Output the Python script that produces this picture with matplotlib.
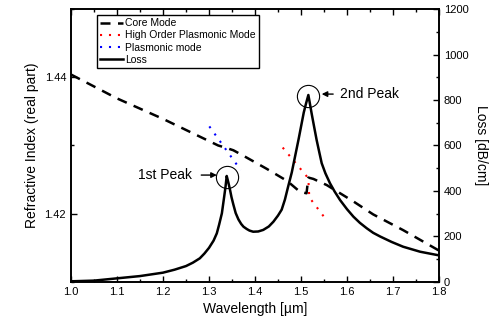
import matplotlib.pyplot as plt
from matplotlib.ticker import MultipleLocator

plt.rcParams['font.family'] = ['Liberation Sans', 'DejaVu Sans']

# Core mode effective index (real part)
core_wl = [1.00, 1.10, 1.20, 1.28, 1.32, 1.335, 1.353, 1.38, 1.425, 1.47,
           1.498, 1.512, 1.516, 1.527, 1.556, 1.585, 1.614, 1.657, 1.722, 1.80]
core_n = [1.4404, 1.4369, 1.4339, 1.4313, 1.4300, 1.4297, 1.4293, 1.4283,
          1.4266, 1.4248, 1.4232, 1.4230, 1.4253, 1.4251, 1.4242, 1.4230,
          1.4218, 1.4199, 1.4176, 1.4146]

# high order plasmonic mode
hop_wl = [1.4602, 1.5159, 1.5180, 1.5528]
hop_n = [1.4297, 1.4252, 1.4224, 1.4193]

# plasmonic mode
pl_wl = [1.3007, 1.3689]
pl_n = [1.4328, 1.4264]

# loss [dB/cm]
loss_wl = [1.00, 1.05, 1.10, 1.15, 1.20, 1.225, 1.25, 1.265, 1.28, 1.29,
           1.30, 1.31, 1.317, 1.322, 1.328, 1.333, 1.336, 1.3385, 1.342,
           1.3457, 1.349, 1.353, 1.358, 1.364, 1.37, 1.375, 1.382, 1.388,
           1.396, 1.407, 1.418, 1.43, 1.44, 1.45, 1.458, 1.465, 1.472, 1.48,
           1.487, 1.495, 1.5015, 1.506, 1.511, 1.516, 1.519, 1.523, 1.528,
           1.534, 1.54, 1.545, 1.553, 1.563, 1.573, 1.585, 1.6, 1.614,
           1.628, 1.643, 1.657, 1.672, 1.697, 1.722, 1.759, 1.80]
loss = [3, 6, 16, 26, 41, 54, 70, 85, 104, 125,
        150, 182, 214, 252, 302, 375, 420, 466, 438,
        405, 372, 340, 303, 275, 255, 243, 233, 226,
        221, 222, 229, 244, 265, 292, 318, 362, 419, 482,
        551, 630, 698, 745, 785, 822, 788, 742, 688,
        624, 568, 522, 478, 434, 398, 360, 320, 287,
        260, 236, 216, 200, 176, 155, 133, 117]

peaks_wl = [1.3385, 1.516]
peaks_loss = [460, 818]

fig = plt.figure(figsize=(4.91, 3.30), dpi=100)
ax = fig.add_axes([0.1446, 0.1455, 0.7495, 0.8272])
ax2 = ax.twinx()

l1, = ax.plot(core_wl, core_n, color='k', lw=1.8, dashes=(4, 3), label='Core Mode')
l2, = ax.plot(hop_wl, hop_n, color='red', lw=1.5, dashes=(1, 3.3),
              label='High Order Plasmonic Mode')
l3, = ax.plot(pl_wl, pl_n, color='blue', lw=1.5, dashes=(1, 3.3),
              label='Plasmonic mode')
l4, = ax2.plot(loss_wl, loss, color='k', lw=1.8, label='Loss')

ax2.plot(peaks_wl, peaks_loss, 'o', ms=16, mfc='none', mec='k', mew=0.8)

ax2.annotate('1st Peak', xy=(1.317, 470), xytext=(1.262, 470),
             ha='right', va='center', fontsize=10,
             arrowprops=dict(arrowstyle='-|>', color='k', lw=1,
                             mutation_scale=8, shrinkA=5, shrinkB=0))
ax2.annotate('2nd Peak', xy=(1.545, 826), xytext=(1.585, 826),
             ha='left', va='center', fontsize=10,
             arrowprops=dict(arrowstyle='-|>', color='k', lw=1,
                             mutation_scale=8, shrinkA=3, shrinkB=0))

ax.set_xlim(1.0, 1.8)
ax.set_ylim(1.41, 1.45)
ax2.set_ylim(0, 1200)

ax.xaxis.set_major_locator(MultipleLocator(0.1))
ax.xaxis.set_minor_locator(MultipleLocator(0.05))
ax.yaxis.set_major_locator(MultipleLocator(0.02))
ax.yaxis.set_minor_locator(MultipleLocator(0.01))
ax2.yaxis.set_major_locator(MultipleLocator(200))
ax2.yaxis.set_minor_locator(MultipleLocator(100))

ax.tick_params(which='both', direction='in', top=True, labelsize=8, width=1)
ax.tick_params(which='major', length=4)
ax.tick_params(which='minor', length=2.5)
ax2.tick_params(which='both', direction='in', labelsize=8, width=1)
ax2.tick_params(which='major', length=4)
ax2.tick_params(which='minor', length=2.5)

for a in (ax, ax2):
    for s in a.spines.values():
        s.set_linewidth(1.2)

ax.set_xlabel('Wavelength [µm]', fontsize=10)
ax.set_ylabel('Refractive Index (real part)', fontsize=10)
ax2.set_ylabel('Loss [dB/cm]', fontsize=10, rotation=270, labelpad=14)

leg = ax2.legend([l1, l2, l3, l4], [h.get_label() for h in (l1, l2, l3, l4)],
                 loc='upper left', bbox_to_anchor=(0.07, 0.977), borderaxespad=0,
                 fontsize=7.5, handlelength=2.2, handletextpad=0.2,
                 labelspacing=0.2, borderpad=0.3, fancybox=False,
                 edgecolor='k', framealpha=1)
leg.get_frame().set_linewidth(1)

fig.savefig('out.png', dpi=100)
